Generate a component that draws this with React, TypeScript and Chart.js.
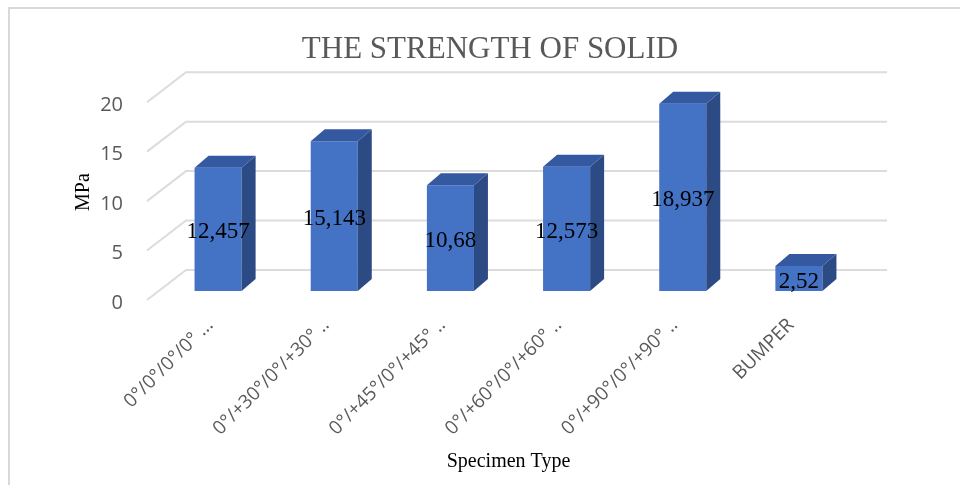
import React, { useEffect, useRef } from 'react';
import { Chart, registerables } from 'chart.js';

Chart.register(...registerables);

const categories = [
  '0°/0°/0°/0° ...',
  '0°/+30°/0°/+30° ..',
  '0°/+45°/0°/+45° ..',
  '0°/+60°/0°/+60° ..',
  '0°/+90°/0°/+90° ..',
  'BUMPER',
];
const strengthValues = [12.457, 15.143, 10.68, 12.573, 18.937, 2.52];
const yTicks = [0, 5, 10, 15, 20];

const formatComma = (v: number) => String(v).replace('.', ',');

const DX = 14;
const DY = -12;

const threeD = {
  id: 'threeD',
  beforeDatasetsDraw(chart: any) {
    const { ctx, chartArea, scales } = chart;
    const y = scales.y;
    ctx.save();
    ctx.strokeStyle = '#dcdcdc';
    ctx.lineWidth = 2;
    const fx = chartArea.left - 13;
    const bx = chartArea.left + 26;
    const br = chartArea.right + 30;
    for (const v of yTicks) {
      const p = y.getPixelForValue(v);
      ctx.beginPath();
      ctx.moveTo(fx, p + 9);
      ctx.lineTo(bx, p - 21);
      ctx.lineTo(br, p - 21);
      ctx.stroke();
    }
    ctx.restore();
  },
  afterDatasetsDraw(chart: any) {
    const { ctx } = chart;
    const meta = chart.getDatasetMeta(0);
    ctx.save();
    meta.data.forEach((bar: any) => {
      const { x, y, base, width } = bar.getProps(['x', 'y', 'base', 'width'], true);
      const l = x - width / 2;
      const r = x + width / 2;
      ctx.fillStyle = '#2c4b85';
      ctx.beginPath();
      ctx.moveTo(r, y);
      ctx.lineTo(r + DX, y + DY);
      ctx.lineTo(r + DX, base + DY);
      ctx.lineTo(r, base);
      ctx.closePath();
      ctx.fill();
      ctx.fillStyle = '#3459a0';
      ctx.beginPath();
      ctx.moveTo(l, y);
      ctx.lineTo(l + DX, y + DY);
      ctx.lineTo(r + DX, y + DY);
      ctx.lineTo(r, y);
      ctx.closePath();
      ctx.fill();
    });
    ctx.fillStyle = '#000';
    ctx.font = '23px "Liberation Serif", serif';
    ctx.textAlign = 'center';
    ctx.textBaseline = 'middle';
    meta.data.forEach((bar: any, i: number) => {
      const { x, y, base } = bar.getProps(['x', 'y', 'base'], true);
      ctx.fillText(formatComma(strengthValues[i]), x, (y + base) / 2 + 3);
    });
    ctx.restore();
  },
};

export default function App() {
  const canvasRef = useRef<HTMLCanvasElement | null>(null);

  useEffect(() => {
    const canvas = canvasRef.current;
    if (!canvas) return;
    const chart = new Chart(canvas, {
      type: 'bar',
      data: {
        labels: categories,
        datasets: [
          {
            data: strengthValues,
            backgroundColor: '#4472c4',
            borderWidth: 0,
            barPercentage: 0.405,
            categoryPercentage: 1,
          },
        ],
      },
      options: {
        responsive: false,
        animation: false,
        layout: { padding: { left: 20, right: 0, top: 0, bottom: 0 } },
        plugins: {
          legend: { display: false },
          tooltip: { enabled: false },
          title: {
            display: true,
            text: 'THE STRENGTH OF SOLID',
            color: '#595959',
            font: { family: '"Liberation Serif", serif', size: 31, weight: 'normal' },
            padding: { top: 31, bottom: 25 },
          },
        },
        scales: {
          x: {
            grid: { display: false },
            border: { display: false },
            ticks: {
              color: '#595959',
              font: { family: '"Open Sans", sans-serif', size: 19 },
              maxRotation: 45,
              minRotation: 45,
              autoSkip: false,
              padding: 15,
              labelOffset: -8,
            },
            title: {
              display: true,
              text: 'Specimen Type',
              color: '#000',
              font: { family: '"Liberation Serif", serif', size: 20 },
              padding: { top: 0, bottom: 11 },
            },
            afterFit: (scale: any) => {
              scale.height = 194;
            },
          },
          y: {
            min: 0,
            max: 20,
            grid: { display: false },
            border: { display: false },
            ticks: {
              stepSize: 5,
              color: '#595959',
              font: { family: '"Open Sans", sans-serif', size: 20 },
              padding: 29,
              labelOffset: 12,
            },
            title: {
              display: true,
              text: 'MPa',
              color: '#000',
              font: { family: '"Liberation Serif", serif', size: 20 },
              padding: { top: 52, bottom: 0 },
            },
            afterFit: (scale: any) => {
              scale.width = 140;
            },
          },
          yr: {
            type: 'linear',
            position: 'right',
            display: true,
            grid: { display: false },
            border: { display: false },
            ticks: { display: false },
            afterFit: (scale: any) => {
              scale.width = 103;
            },
          },
        },
      },
      plugins: [threeD],
    } as any);
    return () => chart.destroy();
  }, []);

  return (
    <div style={{ position: 'fixed', left: 0, top: 0, width: 960, height: 485, background: '#fff', overflow: 'hidden' }}>
      <canvas ref={canvasRef} width={960} height={485} style={{ position: 'absolute', left: 0, top: 0 }} />
      <div
        style={{
          position: 'absolute',
          left: 8,
          top: 7,
          width: 980,
          height: 500,
          borderTop: '2px solid #d9d9d9',
          borderLeft: '2px solid #d9d9d9',
          pointerEvents: 'none',
        }}
      />
    </div>
  );
}
